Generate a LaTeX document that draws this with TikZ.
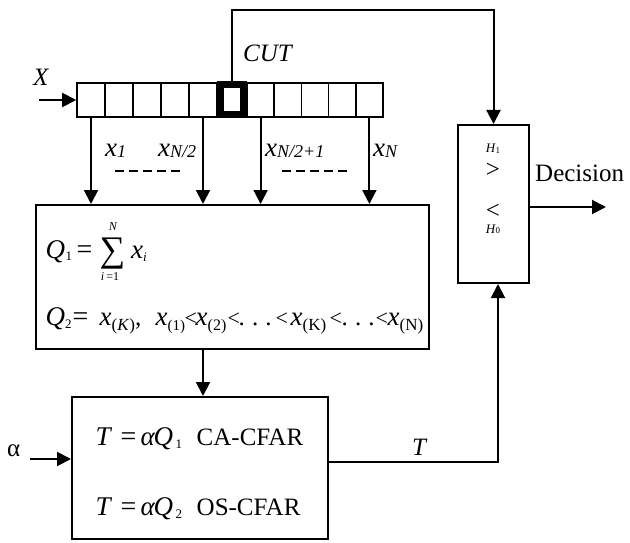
\documentclass[tikz,border=0pt]{standalone}
\usepackage{fontspec}
\setmainfont{Liberation Serif}
\usetikzlibrary{arrows.meta}
\newcommand{\sbx}[3]{\raisebox{#1}{\fontsize{#2}{#2}\selectfont #3}}
\newcommand{\at}[2]{\makebox[0pt][l]{\hspace*{#1pt}#2}}
\newcommand{\fs}[2]{{\fontsize{#1}{#1}\selectfont #2}}
\newcommand{\lt}{\fs{22}{<}}
\newcommand{\dts}{\makebox[33pt][c]{.\hfill.\hfill.}}
\tikzset{
  arr/.style={line width=2pt,-{Triangle[width=14pt,length=14pt]}},
  cell/.style={draw,line width=1.6pt,inner sep=0pt,minimum height=34pt},
  cutcell/.style={draw,line width=7pt,fill=white,inner sep=0pt,minimum width=23pt,minimum height=30pt},
  box/.style={draw,line width=2pt,inner sep=0pt},
  txt/.style={inner sep=0pt,anchor=base west,font=\fontsize{25}{30}\selectfont},
  ctxt/.style={inner sep=0pt,anchor=base,font=\fontsize{25}{30}\selectfont},
  small/.style={inner sep=0pt,anchor=base,font=\fontsize{13}{13}\selectfont},
  dashline/.style={line width=2pt,dash pattern=on 9pt off 5pt}
}
\begin{document}
\begin{tikzpicture}[x=1pt,y=-1pt]
\useasboundingbox (0,0) rectangle (630,543);
% shift register
\foreach \i in {1,...,5} {
  \node[cell,minimum width=28pt] (c\i) at ({77+28*(\i-1)+14},100) {};
}
\foreach \i in {7,...,11} {
  \node[cell,minimum width=27.2pt] (c\i) at ({247+27.2*(\i-7)+13.6},100) {};
}
\node[cutcell] (c6) at (232,99.7) {};
% boxes
\node[box,minimum width=393pt,minimum height=144pt] (qbox) at (232.5,277) {};
\node[box,minimum width=256pt,minimum height=142pt] (tbox) at (200,468) {};
\node[box,minimum width=71pt,minimum height=158pt] (dec) at (493.5,204) {};
% coordinates
\coordinate (xin) at (39,100);
\coordinate (top) at (0,10);
\coordinate (ain) at (30,459);
\coordinate (dout) at (606,207);
\coordinate (tc) at (498,462);
% connectors
\draw[arr] (xin) -- (c1.west);
\draw[arr] (c1.south) -- (c1.south |- qbox.north);
\draw[arr] (c5.south) -- (c5.south |- qbox.north);
\draw[arr] (c7.south) -- (c7.south |- qbox.north);
\draw[arr] (c11.south) -- (c11.south |- qbox.north);
\draw[arr] (c6.north) -- (c6.north |- top) -| (dec.north);
\draw[arr] (qbox.south -| c5) -- (tbox.north -| c5);
\draw[arr] (ain) -- (ain -| tbox.west);
\draw[arr] (tbox.east |- tc) -- (tc) -- (tc |- dec.south);
\draw[arr] (dec.east |- dout) -- (dout);
% dashes
\draw[dashline] (115,171) -- (180,171);
\draw[dashline] (282,171) -- (347,171);
% labels
\node[txt] (lx) at (33,85) {\itshape X};
\node[txt] (lcut) at (243,62) {\itshape CUT};
\node[txt] (lx1) at (105,157) {\itshape \fs{27}{x}\sbx{-1pt}{18}{1}};
\node[txt] (lxn2) at (158,157) {\itshape \fs{27}{x}\sbx{-1pt}{18}{N/2}};
\node[txt] (lxn21) at (265,157) {\itshape \fs{27}{x}\sbx{-1pt}{18}{N/2+1}};
\node[txt] (lxn) at (373,157) {\itshape \fs{27}{x}\sbx{-1pt}{18}{N}};
% Q box contents
\node[txt] (q1a) at (45,258) {\at{0}{\fs{27}{\itshape Q}}\at{20}{\sbx{-2pt}{13}{1}}\at{31}{\fs{28}{=}}};
\node[inner sep=0pt,anchor=base,font=\fontsize{36}{36}\selectfont] (sum) at (112.5,261) {∑};
\node[inner sep=0pt,anchor=base,font=\fontsize{12}{12}\selectfont\itshape] (sumN) at (113,230) {N};
\node[inner sep=0pt,anchor=base,font=\fontsize{12}{12}\selectfont] (sumi) at (110,280) {\textit{i}\,=1};
\node[txt] (q1b) at (131,258) {\fs{27}{\itshape x}\sbx{-3pt}{13}{\itshape i}};
\node[txt] (q2) at (45,325) {%
\at{0}{\fs{27}{\itshape Q}\sbx{-3pt}{13}{2}}%
\at{27}{\fs{28}{=}}%
\at{54}{\fs{27}{\itshape x}\sbx{-5pt}{17}{(\textit{K})},}%
\at{110}{\fs{27}{\itshape x}\sbx{-5pt}{15}{(1)}}%
\at{139}{\lt}%
\at{150}{\fs{27}{\itshape x}\sbx{-5pt}{16}{(2)}}%
\at{182}{\lt}%
\at{193}{\dts}%
\at{230}{\lt}%
\at{245}{\fs{27}{\itshape x}\sbx{-5pt}{17}{(K)}}%
\at{284}{\lt}%
\at{296}{\dts}%
\at{330}{\lt}%
\at{342}{\fs{27}{\itshape x}\sbx{-5pt}{17}{(N)}}};
% T box contents
\node[txt] (t1) at (95,445) {\at{0}{\fs{27}{\itshape T}}\at{25}{\fs{28}{=}}\at{45}{\fs{27}{\itshape α}}\at{58}{\fs{27}{\itshape Q}}\at{80}{\sbx{-3pt}{13}{1}}\at{101}{CA-CFAR}};
\node[txt] (t2) at (95,515) {\at{0}{\fs{27}{\itshape T}}\at{25}{\fs{28}{=}}\at{45}{\fs{27}{\itshape α}}\at{58}{\fs{27}{\itshape Q}}\at{80}{\sbx{-3pt}{13}{2}}\at{101}{OS-CFAR}};
\node[txt] (la) at (7,456) {α};
\node[txt] (lT) at (412,455) {\itshape T};
% decision box contents
\node[small] (h1) at (493,153) {\textit{H}\sbx{-1pt}{9}{1}};
\node[ctxt] (gt) at (493,178) {>};
\node[ctxt] (lt) at (493,218) {<};
\node[small] (h0) at (493,233) {\textit{H}\sbx{-1pt}{9}{0}};
\node[txt] (ldec) at (535,181) {Decision};
\end{tikzpicture}
\end{document}
